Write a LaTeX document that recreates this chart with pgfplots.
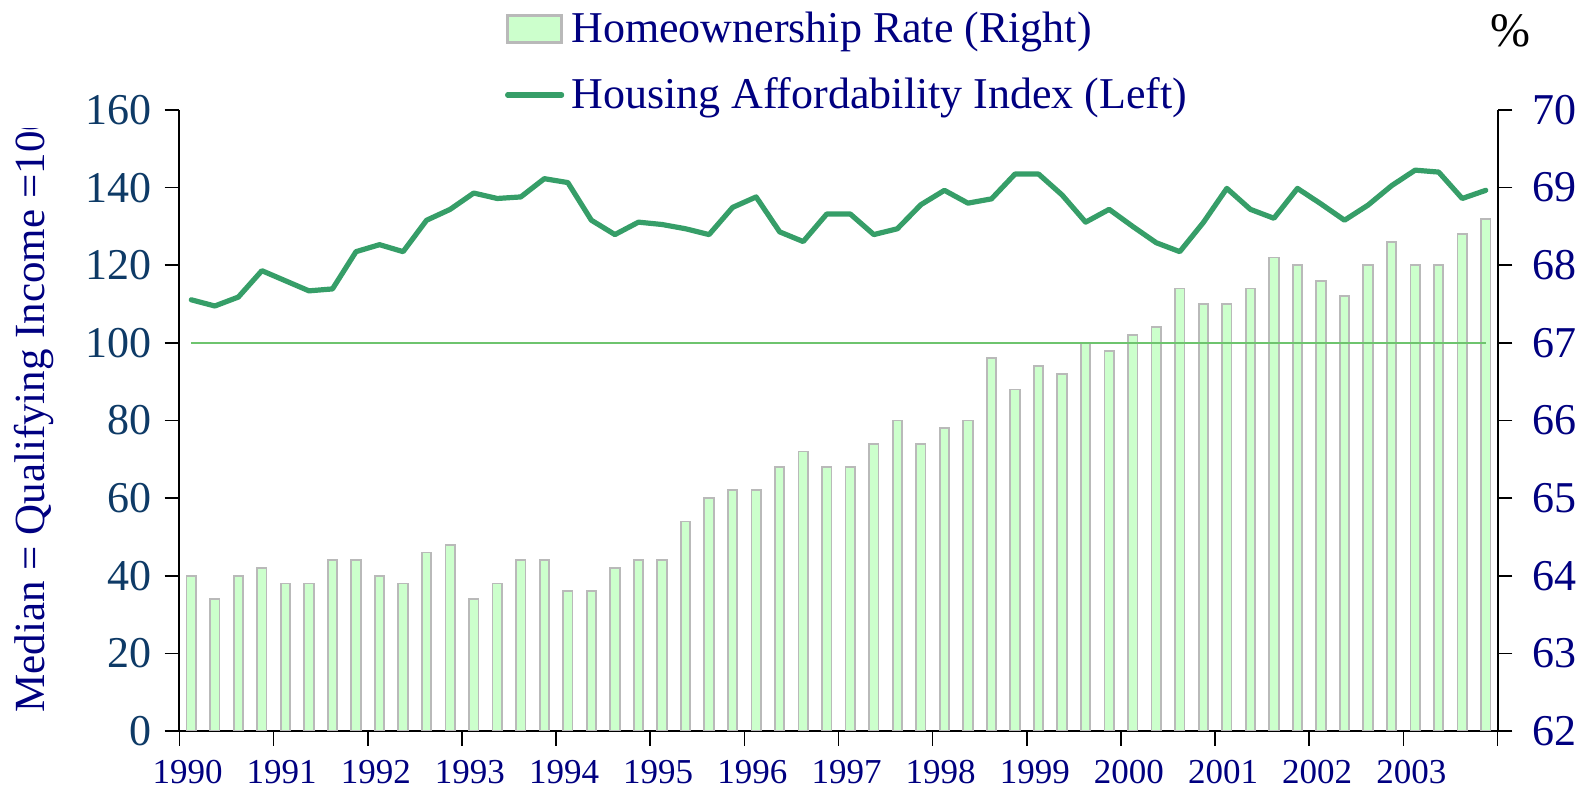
\documentclass[border=0pt]{standalone}
\usepackage{fontspec}
\setmainfont{Liberation Serif}
\usepackage{pgfplots}
\usepackage{pgfplotstable}
\pgfplotsset{compat=1.18}
\definecolor{barfill}{RGB}{204,255,204}
\definecolor{baredge}{RGB}{185,185,185}
\definecolor{hai}{RGB}{54,158,104}
\definecolor{refline}{RGB}{110,196,110}
\definecolor{navy}{RGB}{0,0,128}
\definecolor{lefttick}{RGB}{14,58,102}

\pgfplotstableread{
x hr
1990.125 64.0
1990.375 63.7
1990.625 64.0
1990.875 64.1
1991.125 63.9
1991.375 63.9
1991.625 64.2
1991.875 64.2
1992.125 64.0
1992.375 63.9
1992.625 64.3
1992.875 64.4
1993.125 63.7
1993.375 63.9
1993.625 64.2
1993.875 64.2
1994.125 63.8
1994.375 63.8
1994.625 64.1
1994.875 64.2
1995.125 64.2
1995.375 64.7
1995.625 65.0
1995.875 65.1
1996.125 65.1
1996.375 65.4
1996.625 65.6
1996.875 65.4
1997.125 65.4
1997.375 65.7
1997.625 66.0
1997.875 65.7
1998.125 65.9
1998.375 66.0
1998.625 66.8
1998.875 66.4
1999.125 66.7
1999.375 66.6
1999.625 67.0
1999.875 66.9
2000.125 67.1
2000.375 67.2
2000.625 67.7
2000.875 67.5
2001.125 67.5
2001.375 67.7
2001.625 68.1
2001.875 68.0
2002.125 67.8
2002.375 67.6
2002.625 68.0
2002.875 68.3
2003.125 68.0
2003.375 68.0
2003.625 68.4
2003.875 68.6
}\hrtable

\pgfplotstableread{
x hai
1990.125 111.1
1990.375 109.5
1990.625 111.8
1990.875 118.6
1991.125 116.0
1991.375 113.4
1991.625 113.9
1991.875 123.5
1992.125 125.3
1992.375 123.5
1992.625 131.6
1992.875 134.4
1993.125 138.6
1993.375 137.2
1993.625 137.6
1993.875 142.3
1994.125 141.3
1994.375 131.6
1994.625 127.9
1994.875 131.1
1995.125 130.5
1995.375 129.4
1995.625 127.9
1995.875 134.9
1996.125 137.6
1996.375 128.6
1996.625 126.1
1996.875 133.2
1997.125 133.2
1997.375 127.9
1997.625 129.4
1997.875 135.6
1998.125 139.3
1998.375 136.0
1998.625 137.1
1998.875 143.5
1999.125 143.5
1999.375 138.1
1999.625 131.1
1999.875 134.4
2000.125 130.0
2000.375 125.8
2000.625 123.5
2000.875 131.0
2001.125 139.8
2001.375 134.4
2001.625 132.1
2001.875 139.8
2002.125 135.8
2002.375 131.6
2002.625 135.5
2002.875 140.5
2003.125 144.5
2003.375 144.0
2003.625 137.2
2003.875 139.3
}\haitable

\pgfplotsset{
  barlegend/.style={legend image code/.code={\draw[fill=barfill, draw=baredge, line width=1.2pt] (0pt,-6.75pt) rectangle (27pt,6.75pt);}},
  linelegend/.style={legend image code/.code={\draw[hai, line width=2.6pt, line cap=round] (0pt,0pt) -- (27pt,0pt);}},
}

\begin{document}
\begin{tikzpicture}
\path[use as bounding box] (-89.75pt,-35pt) rectangle (706.75pt,365.5pt);
\begin{axis}[
  name=ax1, at={(0,0)}, anchor=south west,
  scale only axis, width=659pt, height=310.5pt,
  xmin=1990, xmax=2004, ymin=62, ymax=70,
  axis x line*=bottom, axis y line*=right,
  axis line style={line width=1pt, -},
  tick align=outside, major tick length=7.5pt,
  every tick/.style={black, line width=0.85pt},
  /pgf/number format/assume math mode=true,
  xtick={1990,1991,...,2004},
  xticklabels={1990,1991,1992,1993,1994,1995,1996,1997,1998,1999,2000,2001,2002,2003,{}},
  xticklabel style={font=\fontsize{17.5}{20}\selectfont, text=navy, xshift=4pt, yshift=-3.5pt},
  ytick={62,63,...,70},
  yticklabel style={font=\fontsize{22}{24}\selectfont, text=navy, xshift=6.5pt},
]
\addplot[ybar, bar width=0.1, bar shift=0pt, fill=barfill, draw=baredge, line width=0.9pt] table[x=x,y=hr]{\hrtable};
\end{axis}
\begin{axis}[
  at={(0,0)}, anchor=south west,
  scale only axis, width=659pt, height=310.5pt,
  xmin=1990, xmax=2004, ymin=0, ymax=160,
  axis x line=none, axis y line*=left,
  axis line style={line width=1pt, -},
  tick align=outside, major tick length=7.5pt,
  every tick/.style={black, line width=0.85pt},
  /pgf/number format/assume math mode=true,
  ytick={0,20,...,160},
  yticklabel style={font=\fontsize{22}{24}\selectfont, text=lefttick, xshift=-3pt},
  legend cell align=left,
  legend style={draw=none, fill=none, inner sep=0pt, outer sep=0pt,
    at={(axis description cs:0.247,1.077)}, anchor=west,
    font=\fontsize{22}{24}\selectfont, text=navy,
    nodes={inner sep=1pt},
    row sep=14pt,
    /tikz/every odd column/.append style={column sep=2.5pt}},
]
\addlegendimage{barlegend}
\addlegendentry{Homeownership Rate (Right)}
\addplot[hai, line width=2.6pt, line join=round, line cap=round, linelegend] table[x=x,y=hai]{\haitable};
\addlegendentry{Housing Affordability Index (Left)}
\addplot[refline, line width=1pt, forget plot] coordinates {(1990.125,100) (2003.875,100)};
\end{axis}
\begin{scope}
\clip (-89.75pt,-35pt) rectangle (-40pt,301pt);
\node[rotate=90, anchor=base west, inner sep=0pt, font=\fontsize{21.5}{24}\selectfont, text=navy] at (-67.25pt,9pt) {Median = Qualifying Income =100};
\end{scope}
\node[font=\fontsize{24}{26}\selectfont] at (665.25pt,350pt) {\%};
\end{tikzpicture}
\end{document}
